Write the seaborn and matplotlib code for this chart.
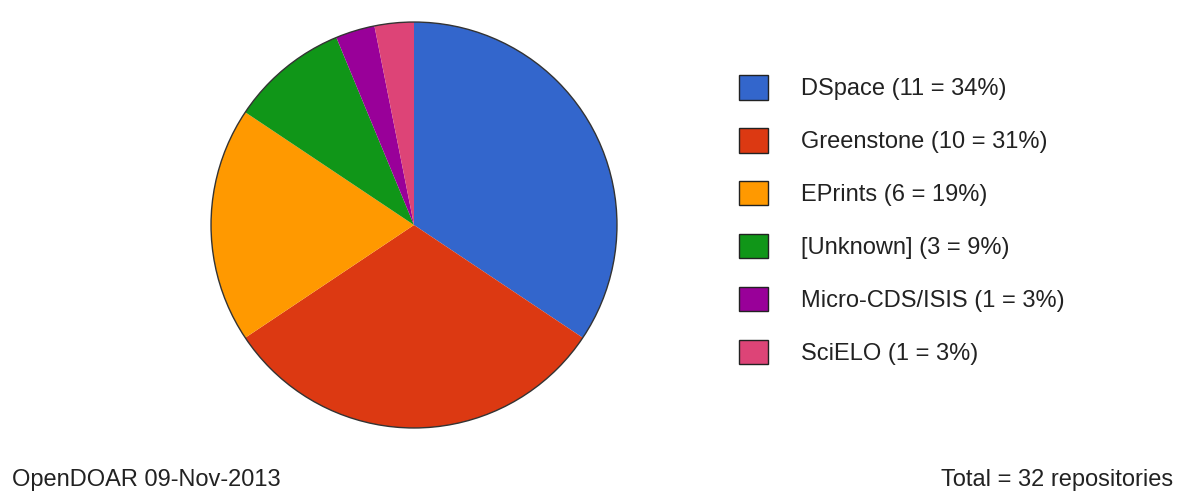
import matplotlib.pyplot as plt
import seaborn as sns
from matplotlib.patches import Circle, Patch

# data
platforms = ["DSpace", "Greenstone", "EPrints", "[Unknown]", "Micro-CDS/ISIS", "SciELO"]
counts = [11, 10, 6, 3, 1, 1]
colors = ["#3366CC", "#DC3912", "#FF9900", "#109618", "#990099", "#DD4477"]
source_note = "OpenDOAR 09-Nov-2013"

sns.set_theme(style="white")
plt.rcParams["font.family"] = ["Liberation Sans", "DejaVu Sans"]

W, H = 1177, 492
fig = plt.figure(figsize=(W / 100, H / 100), dpi=100)

# pie placed by pixel box: center (414, 225), radius 205
cx, cy, r = 414, 225, 205
ax = fig.add_axes([(cx - r) / W, (H - cy - r) / H, 2 * r / W, 2 * r / H])
ax.pie(counts, colors=colors, startangle=90, counterclock=False,
       wedgeprops=dict(linewidth=0))
ax.add_patch(Circle((0, 0), 1, fill=False, edgecolor="#333333", linewidth=1))
ax.set_xlim(-1.01, 1.01)
ax.set_ylim(-1.01, 1.01)
ax.set_aspect("equal")
ax.axis("off")

total = sum(counts)
labels = [f"{p} ({c} = {round(100 * c / total)}%)" for p, c in zip(platforms, counts)]
handles = [Patch(facecolor=col, edgecolor="#222222", linewidth=1) for col in colors]
fs = 17
fig.legend(handles, labels, loc="upper left", bbox_to_anchor=(739 / W, 1 - 75 / H),
           frameon=False, fontsize=fs, handlelength=1.23, handleheight=1.23,
           labelspacing=1.17, handletextpad=1.4, borderpad=0, borderaxespad=0,
           labelcolor="#222222")

fig.text(12 / W, 1 - 480 / H, source_note, fontsize=fs, va="center", ha="left",
         color="#222222")
fig.text(1173 / W, 1 - 480 / H, f"Total = {total} repositories", fontsize=fs,
         va="center", ha="right", color="#222222")

fig.savefig("out.png", dpi=100, facecolor="white")
